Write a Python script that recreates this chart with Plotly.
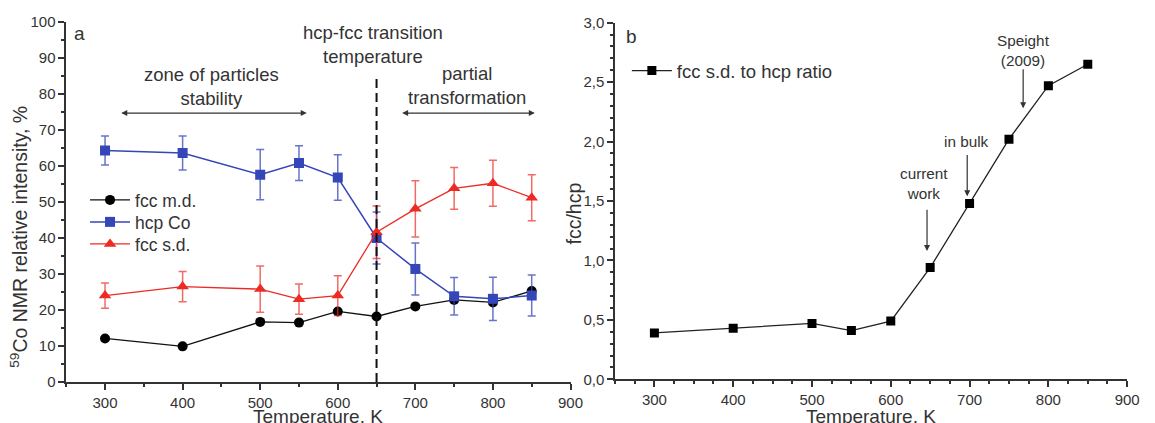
import plotly.graph_objects as go

# Temperatures (K)
temps = [300, 400, 500, 550, 600, 650, 700, 750, 800, 850]

# 59Co NMR relative intensities (%) and their uncertainties
fcc_md = [12.1, 9.9, 16.7, 16.5, 19.6, 18.2, 21.0, 22.8, 22.1, 25.3]
hcp_co = [64.3, 63.6, 57.6, 60.8, 56.8, 40.0, 31.4, 23.8, 23.1, 24.0]
hcp_co_err = [4.0, 4.7, 7.0, 4.8, 6.3, 7.2, 7.2, 5.2, 6.0, 5.7]
fcc_sd = [24.0, 26.5, 25.8, 23.0, 24.0, 41.6, 48.1, 53.8, 55.2, 51.2]
fcc_sd_err = [3.5, 4.2, 6.4, 4.2, 5.5, 7.3, 7.8, 5.8, 6.4, 6.4]

# fcc s.d. to hcp ratio
ratio = [0.39, 0.43, 0.47, 0.41, 0.49, 0.94, 1.48, 2.02, 2.47, 2.65]

FONT = "Liberation Sans, Arial, sans-serif"
TXT = "#333333"
BLUE = "#3446b8"
RED = "#ec2b24"

W, H = 1155, 423
M_T, M_B = 22, 41
PH = H - M_T - M_B


def px_x(px):
    return px / W


def px_y(py):
    return (H - M_B - py) / PH


fig = go.Figure()

fig.add_trace(go.Scatter(
    x=temps, y=fcc_md, name="fcc m.d.", mode="lines+markers",
    line=dict(color="#111111", width=1.3),
    marker=dict(symbol="circle", size=10, color="#000000"),
    xaxis="x", yaxis="y", legend="legend",
))
fig.add_trace(go.Scatter(
    x=temps, y=hcp_co, name="hcp Co", mode="lines+markers",
    line=dict(color=BLUE, width=1.5),
    marker=dict(symbol="square", size=10, color=BLUE),
    error_y=dict(type="data", array=hcp_co_err, visible=True,
                 color="rgba(52,70,184,0.75)", thickness=1.5, width=4),
    xaxis="x", yaxis="y", legend="legend3",
))
fig.add_trace(go.Scatter(
    x=temps, y=fcc_sd, name="fcc s.d.", mode="lines+markers",
    line=dict(color=RED, width=1.3),
    marker=dict(symbol="triangle-up", size=11, color=RED),
    error_y=dict(type="data", array=fcc_sd_err, visible=True,
                 color="rgba(236,43,36,0.7)", thickness=1.5, width=4),
    xaxis="x", yaxis="y", legend="legend4",
))
fig.add_trace(go.Scatter(
    x=temps, y=ratio, name="fcc s.d. to hcp ratio", mode="lines+markers",
    line=dict(color="#222222", width=1.3),
    marker=dict(symbol="square", size=9, color="#000000"),
    xaxis="x2", yaxis="y2", legend="legend2",
))

axis_common = dict(
    showline=True, linecolor="#333333", linewidth=1.5,
    ticks="outside", ticklen=6, tickwidth=1.5, tickcolor="#333333",
    showgrid=False, zeroline=False,
    tickfont=dict(family=FONT, size=15, color=TXT),
)


def legend_at(px, py, size):
    return dict(x=px_x(px), y=px_y(py), xanchor="left", yanchor="middle",
                bgcolor="rgba(0,0,0,0)", font=dict(family=FONT, size=size, color=TXT),
                itemwidth=40, visible=True)


fig.update_layout(
    width=W, height=H,
    margin=dict(l=0, r=0, t=M_T, b=M_B),
    paper_bgcolor="white", plot_bgcolor="white",
    separators=", ",
    showlegend=True,
    font=dict(family=FONT, color=TXT),
    xaxis=dict(domain=[px_x(67), px_x(577)], range=[250, 900], dtick=100, tick0=0,
               minor=dict(dtick=50, ticks="outside", ticklen=3, tickcolor="#333333"),
               anchor="y", **axis_common),
    yaxis=dict(domain=[0, 1], range=[0, 100], dtick=10,
               minor=dict(dtick=5, ticks="outside", ticklen=3, tickcolor="#333333"),
               anchor="x", **axis_common),
    xaxis2=dict(domain=[px_x(622), px_x(1140)], range=[250, 900], dtick=100, tick0=0,
                minor=dict(dtick=25, ticks="outside", ticklen=3, tickcolor="#333333"),
                anchor="y2", **axis_common),
    yaxis2=dict(domain=[px_y(379.3), px_y(22.7)], range=[0, 3], dtick=0.5, tickformat=".1f",
                minor=dict(dtick=0.1, ticks="outside", ticklen=3, tickcolor="#333333"),
                anchor="x2", **axis_common),
    legend=legend_at(86, 200, 17.5),
    legend3=legend_at(86, 222, 17.5),
    legend4=legend_at(86, 244, 17.5),
    legend2=legend_at(634, 71, 18.5),
)

# transition temperature marker
fig.add_shape(type="line", xref="x", yref="y", x0=650, x1=650, y0=0, y1=85,
              line=dict(color="#111111", width=2, dash="9px,5px"))

ann = []


def paper_text(text, px, py, size, angle=0):
    ann.append(dict(text=text, xref="paper", yref="paper", x=px_x(px), y=px_y(py),
                    xanchor="center", yanchor="middle", textangle=angle,
                    showarrow=False, font=dict(size=size, color=TXT)))


# panel letters
paper_text("a", 80, 33, 19)
paper_text("b", 639, 37, 19)

# axis titles
paper_text("<sup>59</sup>Co NMR relative intensity, %", 19, 237, 19.5, -90)
paper_text("fcc/hcp", 581, 213, 19.5, -90)
paper_text("Temperature, K", 322, 416, 19)
paper_text("Temperature, K", 881, 416, 19)

# panel a notes
for text, xv, yv in [("zone of particles<br>stability", 437, 82),
                     ("hcp-fcc transition<br>temperature", 646, 93.8),
                     ("partial<br>transformation", 767, 82.4)]:
    ann.append(dict(text=text, xref="x", yref="y", x=xv, y=yv, xanchor="center",
                    yanchor="middle", showarrow=False, font=dict(size=18.5, color=TXT)))
for x_head, x_tail in [(560, 319), (854, 681)]:
    ann.append(dict(text="", xref="x", yref="y", x=x_head, y=74.7, axref="x", ayref="y",
                    ax=x_tail, ay=74.7, showarrow=True, arrowside="end+start", arrowhead=2,
                    arrowsize=1, arrowwidth=1.2, arrowcolor="#333333"))

# panel b notes
for text, xv, yv in [("Speight<br>(2009)", 768, 2.77),
                     ("in bulk", 696, 2.0),
                     ("current<br>work", 642, 1.65)]:
    ann.append(dict(text=text, xref="x2", yref="y2", x=xv, y=yv, xanchor="center",
                    yanchor="middle", showarrow=False, font=dict(size=15.3, color=TXT)))
for xa, y_tail, y_tip in [(768, 2.62, 2.28), (697, 1.90, 1.54), (646, 1.44, 1.08)]:
    ann.append(dict(text="", xref="x2", yref="y2", x=xa, y=y_tip, axref="x2", ayref="y2",
                    ax=xa, ay=y_tail, showarrow=True, arrowhead=2, arrowsize=1,
                    arrowwidth=1.2, arrowcolor="#333333"))

fig.update_layout(annotations=ann)

fig.write_html("out.html")
